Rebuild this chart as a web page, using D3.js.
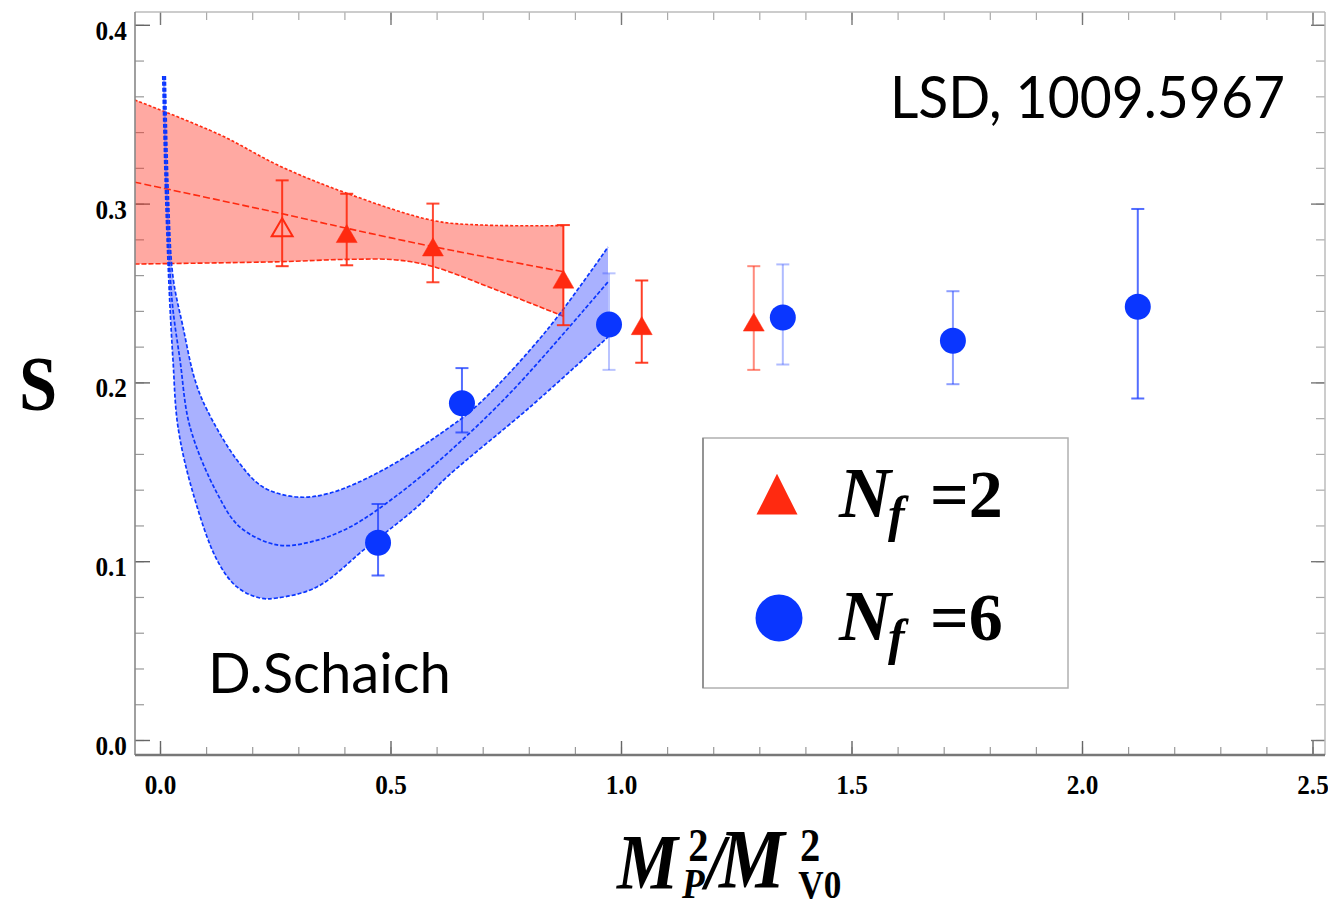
<!DOCTYPE html>
<html>
<head>
<meta charset="utf-8">
<script src="https://cdn.jsdelivr.net/npm/d3@7"></script>
<style>
  html, body { margin: 0; padding: 0; background: #fff; }
  svg { display: block; }
</style>
</head>
<body>
<svg id="chart" width="1328" height="907"></svg>
<script>
// ---- data ----------------------------------------------------------------
// N_f = 2 lattice points: x = M_P^2 / M_V0^2, S and its error
const nf2X   = [0.265, 0.405, 0.592, 0.875, 1.045, 1.288];
const nf2S   = [0.289, 0.2855, 0.278, 0.260, 0.234, 0.236];
const nf2Err = [0.024, 0.020, 0.022, 0.028, 0.023, 0.029];
const nf2Open = [true, false, false, false, false, false];

// N_f = 6 lattice points
const nf6X   = [0.473, 0.655, 0.974, 1.351, 1.720, 2.121];
const nf6S   = [0.112, 0.190, 0.234, 0.238, 0.225, 0.244];
const nf6Err = [0.020, 0.018, 0.027, 0.028, 0.026, 0.053];

// N_f = 2 fit: central curve and error band edges, [x, S]
const nf2FitMid = [[-0.055, 0.312], [0.26, 0.2946], [0.405, 0.2862], [0.593, 0.2759], [0.875, 0.2619]];
const nf2FitHi  = [[-0.055, 0.358], [0.13, 0.3385], [0.26, 0.321], [0.405, 0.3058], [0.593, 0.2905], [0.70, 0.2880], [0.875, 0.2877]];
const nf2FitLo  = [[-0.055, 0.2662], [0.26, 0.2675], [0.405, 0.2688], [0.513, 0.2685], [0.593, 0.2647], [0.73, 0.2517], [0.875, 0.237]];

// N_f = 6 fit: central curve and error band edges, [x, S]
const nf6FitMid = [[0.0087, 0.3714], [0.0152, 0.3020], [0.0260, 0.2461], [0.0434, 0.2125], [0.0651, 0.1751],
                   [0.1236, 0.1381], [0.1735, 0.1191], [0.2538, 0.1091], [0.3254, 0.1107], [0.4121, 0.1191],
                   [0.5206, 0.1381], [0.6291, 0.1616], [0.7657, 0.1957], [0.9718, 0.2562]];
const nf6FitHi  = [[0.0115, 0.3714], [0.0185, 0.3020], [0.0282, 0.2589], [0.0499, 0.2310], [0.0759, 0.2013],
                   [0.1020, 0.1846], [0.1670, 0.1566], [0.2234, 0.1415], [0.2972, 0.1359], [0.3688, 0.1381],
                   [0.4837, 0.1510], [0.6291, 0.1751], [0.6941, 0.1885], [0.8395, 0.2293], [0.9718, 0.2757]];
const nf6FitLo  = [[0.0060, 0.3714], [0.0125, 0.3020], [0.0210, 0.2461], [0.0282, 0.2125], [0.0390, 0.1751],
                   [0.0716, 0.1381], [0.1236, 0.1007], [0.1670, 0.0856], [0.2169, 0.0794], [0.2538, 0.0794],
                   [0.3406, 0.0856], [0.4490, 0.1079], [0.5575, 0.1303], [0.6226, 0.1471], [0.8026, 0.1862],
                   [0.9718, 0.2254]];

// axis ticks
const xMajorTicks = [0, 0.5, 1.0, 1.5, 2.0, 2.5];
const xMinorTicks = d3.range(0, 26).map(i => i / 10);
const yMajorTicks = [0, 0.1, 0.2, 0.3, 0.4];
const yMinorTicks = d3.range(0, 21).map(i => i / 50);

const legendLabels = ["2", "6"];
const sourceNote = "LSD, 1009.5967";
const authorNote = "D.Schaich";

// ---- layout & styles -----------------------------------------------------
const plot = { left: 135, right: 1325, top: 12, bottom: 755 };
const RED = "#ff2a10", BLUE = "#0a36ff";
const SERIF = "'Liberation Serif', 'DejaVu Serif', serif";
const SANS = "Lato, 'Open Sans', sans-serif";

const svg = d3.select("#chart");

const x = d3.scaleLinear().domain([-0.05423, 2.52711]).range([plot.left, plot.right]);
const y = d3.scaleLinear().domain([-0.00839, 0.40716]).range([plot.bottom, plot.top]);

svg.append("defs").append("clipPath").attr("id", "plotClip")
  .append("rect")
  .attr("x", plot.left).attr("y", plot.top)
  .attr("width", plot.right - plot.left).attr("height", plot.bottom - plot.top);

// ---- frame ticks (drawn under the data) --------------------------------
function styleTicks(g, color, width) {
  g.select(".domain").remove();
  g.selectAll(".tick line").attr("stroke", color).attr("stroke-width", width);
}

// bottom
svg.append("g").attr("transform", `translate(0,${plot.bottom})`)
  .call(d3.axisBottom(x).tickValues(xMinorTicks).tickSizeInner(-8).tickSizeOuter(0).tickFormat(""))
  .call(g => styleTicks(g, "#999", 1.2));
const xAxisG = svg.append("g").attr("transform", `translate(0,${plot.bottom})`)
  .call(d3.axisBottom(x).tickValues(xMajorTicks).tickSizeInner(-14).tickSizeOuter(0)
        .tickPadding(19).tickFormat(d3.format(".1f")))
  .call(g => styleTicks(g, "#666", 1.4));
xAxisG.selectAll(".tick text")
  .attr("fill", "#000").style("font-family", SERIF).style("font-weight", "bold")
  .style("font-size", "28px").attr("transform", "scale(0.9,1)");

// top
svg.append("g").attr("transform", `translate(0,${plot.top})`)
  .call(d3.axisTop(x).tickValues(xMinorTicks).tickSizeInner(-8).tickSizeOuter(0).tickFormat(""))
  .call(g => styleTicks(g, "#aaa", 1.2));
svg.append("g").attr("transform", `translate(0,${plot.top})`)
  .call(d3.axisTop(x).tickValues(xMajorTicks).tickSizeInner(-13).tickSizeOuter(0).tickFormat(""))
  .call(g => styleTicks(g, "#777", 1.4));

// left
svg.append("g").attr("transform", `translate(${plot.left},0)`)
  .call(d3.axisLeft(y).tickValues(yMinorTicks).tickSizeInner(-9).tickSizeOuter(0).tickFormat(""))
  .call(g => styleTicks(g, "#999", 1.2));
const yAxisG = svg.append("g").attr("transform", `translate(${plot.left},0)`)
  .call(d3.axisLeft(y).tickValues(yMajorTicks).tickSizeInner(-15).tickSizeOuter(0)
        .tickPadding(9).tickFormat(d3.format(".1f")))
  .call(g => styleTicks(g, "#666", 1.4));
yAxisG.selectAll(".tick text")
  .attr("fill", "#000").attr("dy", "0.52em").style("font-family", SERIF).style("font-weight", "bold")
  .style("font-size", "28px").attr("transform", "scale(0.9,1)");

// right
svg.append("g").attr("transform", `translate(${plot.right},0)`)
  .call(d3.axisRight(y).tickValues(yMinorTicks).tickSizeInner(-9).tickSizeOuter(0).tickFormat(""))
  .call(g => styleTicks(g, "#aaa", 1.2));
svg.append("g").attr("transform", `translate(${plot.right},0)`)
  .call(d3.axisRight(y).tickValues(yMajorTicks).tickSizeInner(-14).tickSizeOuter(0).tickFormat(""))
  .call(g => styleTicks(g, "#777", 1.4));

// ---- fit bands -------------------------------------------------------------
const layer = svg.append("g").attr("clip-path", "url(#plotClip)");
const curveGen = d3.line().x(d => x(d[0])).y(d => y(d[1])).curve(d3.curveCatmullRom.alpha(0.5));

function bandPath(hi, lo) {
  const top = curveGen(hi);
  const bottom = curveGen(lo.slice().reverse());
  return top + "L" + bottom.slice(1) + "Z";
}

// N_f = 2 band
layer.append("path").attr("d", bandPath(nf2FitHi, nf2FitLo))
  .attr("fill", "#ff3322").attr("fill-opacity", 0.42).attr("stroke", "none");
[[nf2FitHi, "3,2"], [nf2FitLo, "5,2"], [nf2FitMid, "7,3"]].forEach(([pts, dash]) => {
  layer.append("path").attr("d", curveGen(pts)).attr("fill", "none")
    .attr("stroke", RED).attr("stroke-width", 1.6).attr("stroke-dasharray", dash);
});
// right edge of the N_f = 2 band
layer.append("line")
  .attr("x1", x(nf2FitHi[nf2FitHi.length - 1][0])).attr("x2", x(nf2FitLo[nf2FitLo.length - 1][0]))
  .attr("y1", y(nf2FitHi[nf2FitHi.length - 1][1])).attr("y2", y(nf2FitLo[nf2FitLo.length - 1][1]))
  .attr("stroke", RED).attr("stroke-width", 1.2).attr("stroke-opacity", 0.7);

// N_f = 6 band
layer.append("path").attr("d", bandPath(nf6FitHi, nf6FitLo))
  .attr("fill", "#3344ff").attr("fill-opacity", 0.42).attr("stroke", "none");
[nf6FitHi, nf6FitLo, nf6FitMid].forEach(pts => {
  layer.append("path").attr("d", curveGen(pts)).attr("fill", "none")
    .attr("stroke", BLUE).attr("stroke-width", 1.7).attr("stroke-dasharray", "4,2");
});

// ---- error bars and markers -----------------------------------------------
function errorBars(xs, ys, es, color, opacity) {
  const g = layer.append("g").attr("stroke", color).attr("stroke-width", 2);
  xs.forEach((xv, i) => {
    const px = x(xv), y0 = y(ys[i] - es[i]), y1 = y(ys[i] + es[i]);
    const o = opacity[i];
    g.append("line").attr("x1", px).attr("x2", px).attr("y1", y0).attr("y2", y1).attr("stroke-opacity", o);
    g.append("line").attr("x1", px - 6.5).attr("x2", px + 6.5).attr("y1", y0).attr("y2", y0).attr("stroke-opacity", o);
    g.append("line").attr("x1", px - 6.5).attr("x2", px + 6.5).attr("y1", y1).attr("y2", y1).attr("stroke-opacity", o);
  });
}
errorBars(nf2X, nf2S, nf2Err, RED, [0.9, 0.9, 0.85, 0.9, 0.9, 0.55]);
errorBars(nf6X, nf6S, nf6Err, "#1a3cff", [0.75, 0.75, 0.3, 0.35, 0.5, 0.75]);

const triSym = d3.symbol(d3.symbolTriangle).size(190);
layer.append("g").selectAll("path").data(nf2X).join("path")
  .attr("d", triSym)
  .attr("transform", (d, i) => `translate(${x(d)},${y(nf2S[i]) + 7})`)
  .attr("fill", (d, i) => nf2Open[i] ? "none" : RED)
  .attr("stroke", RED)
  .attr("stroke-width", (d, i) => nf2Open[i] ? 2 : 0.5);

layer.append("g").selectAll("circle").data(nf6X).join("circle")
  .attr("cx", d => x(d))
  .attr("cy", (d, i) => y(nf6S[i]) + 3)
  .attr("r", 13)
  .attr("fill", BLUE);

// ---- frame lines -----------------------------------------------------------
svg.append("line").attr("x1", plot.left).attr("x2", plot.right).attr("y1", plot.top).attr("y2", plot.top)
  .attr("stroke", "#bbb").attr("stroke-width", 1.5);
svg.append("line").attr("x1", plot.right).attr("x2", plot.right).attr("y1", plot.top).attr("y2", plot.bottom)
  .attr("stroke", "#bbb").attr("stroke-width", 1.5);
svg.append("line").attr("x1", plot.left).attr("x2", plot.left).attr("y1", plot.top).attr("y2", plot.bottom)
  .attr("stroke", "#888").attr("stroke-width", 1.6);
svg.append("line").attr("x1", plot.left).attr("x2", plot.right).attr("y1", plot.bottom).attr("y2", plot.bottom)
  .attr("stroke", "#777").attr("stroke-width", 2.6);

// ---- annotations -----------------------------------------------------------
svg.append("text").attr("x", 890).attr("y", 118)
  .attr("textLength", 395).attr("lengthAdjust", "spacingAndGlyphs")
  .style("font-family", SANS).style("font-size", "58px").attr("fill", "#000")
  .text(sourceNote);
svg.append("text").attr("x", 208).attr("y", 693)
  .attr("textLength", 243).attr("lengthAdjust", "spacingAndGlyphs")
  .style("font-family", SANS).style("font-size", "56px").attr("fill", "#000")
  .text(authorNote);

// ---- legend ----------------------------------------------------------------
const lg = svg.append("g");
lg.append("rect").attr("x", 703).attr("y", 438).attr("width", 365).attr("height", 250)
  .attr("fill", "#fff").attr("stroke", "#b0b0b0").attr("stroke-width", 1.5);
lg.append("line").attr("x1", 703).attr("x2", 703).attr("y1", 438).attr("y2", 688)
  .attr("stroke", "#888").attr("stroke-width", 1.6);

legendLabels.forEach((lab, i) => {
  const cy = 495 + i * 123;
  if (i === 0) {
    lg.append("path").attr("d", d3.symbol(d3.symbolTriangle).size(728)())
      .attr("transform", `translate(777,${cy + 6}) scale(1,1.15)`).attr("fill", RED);
  } else {
    lg.append("circle").attr("cx", 779).attr("cy", cy).attr("r", 23.5).attr("fill", BLUE);
  }
  const t = lg.append("text").attr("y", cy + 22).style("font-family", SERIF).attr("fill", "#000");
  t.append("tspan").attr("x", 839).style("font-style", "italic").style("font-weight", "bold")
    .style("font-size", "72px").text("N");
  t.append("tspan").attr("x", 888).attr("dy", 14).style("font-style", "italic").style("font-weight", "bold")
    .style("font-size", "50px").text("f");
  t.append("tspan").attr("x", 930).attr("dy", -14).style("font-weight", "bold")
    .style("font-size", "68px").text("=" + lab);
});

// ---- axis titles -----------------------------------------------------------
svg.append("text").attr("x", 38).attr("y", 410).attr("text-anchor", "middle")
  .attr("transform", "translate(38,0) scale(0.88,1) translate(-38,0)")
  .style("font-family", SERIF).style("font-weight", "bold").style("font-size", "78px")
  .attr("fill", "#000").text("S");

// M_P^2 / M_V0^2 built from stacked sub/superscripts
const xt = svg.append("g").attr("transform", "translate(617,888) scale(0.88,1)")
  .style("font-family", SERIF).style("font-weight", "bold").attr("fill", "#000");
xt.append("text").attr("x", 0).attr("y", 0).style("font-style", "italic").style("font-size", "78px").text("M");
xt.append("text").attr("x", 74).attr("y", 10).style("font-style", "italic").style("font-size", "42px").text("P");
xt.append("text").attr("x", 81).attr("y", -27).style("font-size", "46px").text("2");
xt.append("text").attr("x", 101).attr("y", 0).style("font-style", "italic").style("font-size", "78px").text("/");
xt.append("text").attr("x", 116).attr("y", 0).style("font-style", "italic").style("font-size", "84px").text("M");
xt.append("text").attr("x", 208).attr("y", -27).style("font-size", "46px").text("2");
xt.append("text").attr("x", 206).attr("y", 10).style("font-size", "40px").text("V0");
</script>
</body>
</html>
